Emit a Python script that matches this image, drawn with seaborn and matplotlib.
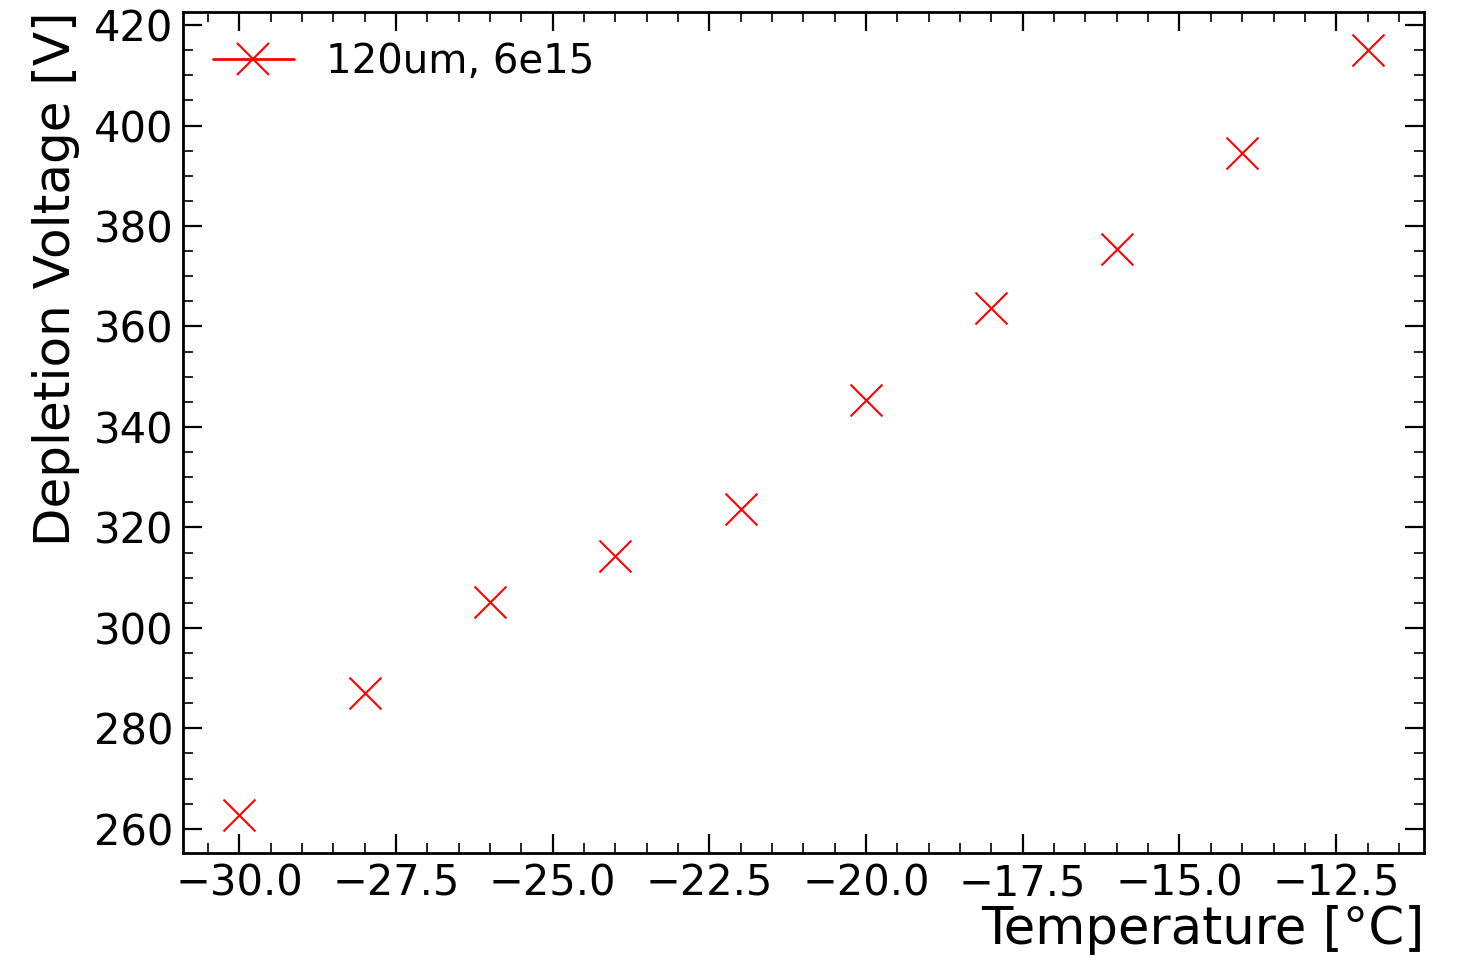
import matplotlib

matplotlib.use('Agg')
import matplotlib.pyplot as plt
import seaborn as sns
from matplotlib.lines import Line2D
from matplotlib.ticker import AutoMinorLocator

# Depletion voltage vs temperature, 120um sensor at 6e15 fluence
temperature = [-30, -28, -26, -24, -22, -20, -18, -16, -14, -12]
depletion_voltage = [262.8, 287.0, 305.1, 314.4, 323.7, 345.4, 363.6, 375.5, 394.6, 415.0]
series_label = '120um, 6e15'

sns.set_style('ticks')
plt.rcParams['font.family'] = ['DejaVu Sans']
plt.rcParams.update({
    'xtick.direction': 'in', 'ytick.direction': 'in',
    'xtick.top': True, 'ytick.right': True,
    'xtick.major.size': 14, 'ytick.major.size': 14,
    'xtick.minor.size': 7, 'ytick.minor.size': 7,
    'xtick.major.width': 1.6, 'ytick.major.width': 1.6,
    'xtick.minor.width': 1.2, 'ytick.minor.width': 1.2,
    'xtick.major.pad': 7, 'ytick.major.pad': 7,
    'axes.linewidth': 2,
    'axes.edgecolor': 'black',
    'axes.labelcolor': 'black',
    'text.color': 'black',
    'xtick.color': 'black', 'ytick.color': 'black',
})

fig = plt.figure(figsize=(14.6, 9.6), dpi=100)
ax = fig.add_axes([0.1253, 0.1115, 0.85, 0.876])

sns.scatterplot(x=temperature, y=depletion_voltage, marker='x', color='red',
                s=23 ** 2, linewidth=1.5, ax=ax)

ax.xaxis.set_minor_locator(AutoMinorLocator(5))
ax.yaxis.set_minor_locator(AutoMinorLocator(4))
ax.tick_params(which='both', direction='in', top=True, right=True, labelsize=30)

ax.set_xlabel('Temperature [°C]', fontsize=37, loc='right', labelpad=0)
ax.set_ylabel('Depletion Voltage [V]', fontsize=36, loc='top', labelpad=10)

handle = Line2D([], [], color='red', marker='x', markersize=23, markeredgewidth=1.5, linewidth=2)
ax.legend([handle], [series_label], loc='upper left', frameon=False, fontsize=29,
          borderaxespad=0.35)

fig.savefig('out.png', dpi=100)
